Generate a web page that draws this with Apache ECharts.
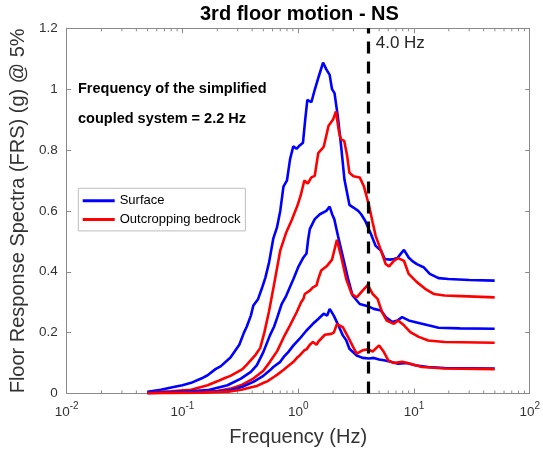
<!DOCTYPE html>
<html>
<head>
<meta charset="utf-8">
<script src="https://cdn.jsdelivr.net/npm/echarts@6/dist/echarts.min.js"></script>
<style>html,body{margin:0;padding:0;background:#fff}#c{width:543px;height:452px}</style>
</head>
<body>
<div id="c"></div>
<script>
// ---------- text ----------
const chartTitle = '3rd floor motion - NS';
const xAxisName = 'Frequency (Hz)';
const yAxisName = 'Floor Response Spectra (FRS) (g) @ 5%';
const legendNames = ['Surface', 'Outcropping bedrock'];
const noteLines = ['Frequency of the simplified', 'coupled system = 2.2 Hz'];
const markerFreq = 4.0;
const markerLabel = '4.0 Hz';

// ---------- axes ----------
const xMin = 0.01, xMax = 100;
const yMin = 0, yMax = 1.2, yStep = 0.2;
const minorDecades = [0.01, 0.1, 1, 10];
const minorMultipliers = [2, 3, 4, 5, 6, 7, 8, 9];

// ---------- data: Surface (blue) ----------
const surfHighF = [0.05,0.065,0.086,0.1,0.119,0.147,0.165,0.193,0.215,0.26,0.31,0.34,0.36,0.39,0.41,0.45,0.49,0.52,0.56,0.61,0.655,0.70,0.746,0.80,0.851,0.907,0.968,1.03,1.10,1.15,1.20,1.30,1.39,1.50,1.64,1.75,1.87,1.96,2.06,2.2,2.35,2.51,2.77,3.0,3.3,3.5,3.8,4.25,4.67,5.2,5.6,6.2,6.7,7.2,7.65,8.2,9.0,9.7,10.6,12.1,13.7,16.3,19.9,30,49.8];
const surfHighV = [0.006,0.012,0.022,0.027,0.035,0.05,0.06,0.08,0.09,0.118,0.16,0.2,0.22,0.256,0.289,0.31,0.35,0.38,0.43,0.51,0.545,0.60,0.68,0.70,0.77,0.812,0.804,0.815,0.824,0.90,0.965,0.957,0.998,1.04,1.087,1.065,1.047,1.0,0.987,0.91,0.812,0.703,0.62,0.611,0.60,0.589,0.567,0.524,0.485,0.469,0.442,0.44,0.442,0.445,0.458,0.472,0.447,0.435,0.425,0.415,0.393,0.379,0.376,0.373,0.371];

const surfMidF = [0.05,0.1,0.165,0.245,0.32,0.39,0.44,0.5,0.57,0.62,0.66,0.72,0.79,0.86,0.91,1.0,1.11,1.18,1.22,1.26,1.39,1.54,1.75,1.87,1.96,2.05,2.2,2.43,2.7,2.95,3.4,4.0,4.5,5.2,5.7,6.5,7.2,7.9,9.0,11.0,13.3,16.3,25,49.8];
const surfMidV = [0.002,0.006,0.011,0.027,0.049,0.071,0.093,0.136,0.191,0.22,0.25,0.294,0.322,0.355,0.376,0.415,0.447,0.46,0.507,0.54,0.573,0.589,0.6,0.614,0.59,0.573,0.52,0.45,0.376,0.322,0.294,0.287,0.278,0.273,0.251,0.235,0.24,0.251,0.24,0.232,0.224,0.216,0.214,0.213];

const surfLowF = [0.05,0.12,0.2,0.26,0.33,0.41,0.5,0.57,0.61,0.70,0.75,0.82,0.91,1.03,1.18,1.34,1.49,1.66,1.78,1.87,2.03,2.26,2.43,2.6,2.77,3.2,3.6,4.1,4.5,5.0,5.5,6.3,7.3,8.7,10.2,13.3,18.4,49.8];
const surfLowV = [0.002,0.004,0.007,0.011,0.022,0.038,0.058,0.076,0.087,0.104,0.12,0.136,0.158,0.18,0.207,0.229,0.245,0.262,0.256,0.278,0.256,0.218,0.191,0.175,0.147,0.125,0.117,0.115,0.117,0.112,0.109,0.104,0.098,0.1,0.093,0.087,0.084,0.082];

// ---------- data: Outcropping bedrock (red) ----------
const rockHighF = [0.05,0.08,0.119,0.165,0.2,0.23,0.26,0.3,0.33,0.36,0.39,0.43,0.47,0.51,0.56,0.62,0.70,0.79,0.88,0.98,1.05,1.13,1.21,1.30,1.39,1.49,1.66,1.83,2.0,2.12,2.25,2.34,2.5,2.65,2.77,3.0,3.4,3.7,4.1,4.4,4.67,5.2,5.7,6.1,6.7,7.3,8.2,9.0,10.6,12.5,14.8,18.4,25.6,49.8];
const rockHighV = [0.003,0.007,0.012,0.027,0.04,0.05,0.058,0.071,0.08,0.095,0.11,0.128,0.15,0.2,0.27,0.36,0.47,0.53,0.57,0.615,0.65,0.70,0.69,0.71,0.715,0.79,0.81,0.88,0.90,0.927,0.86,0.835,0.83,0.78,0.725,0.714,0.71,0.68,0.616,0.562,0.518,0.469,0.425,0.418,0.436,0.445,0.436,0.393,0.366,0.344,0.327,0.322,0.32,0.316];

const rockMidF = [0.05,0.12,0.2,0.26,0.32,0.41,0.5,0.57,0.66,0.75,0.85,0.97,1.06,1.11,1.14,1.26,1.34,1.44,1.49,1.58,1.78,1.96,2.05,2.16,2.35,2.6,2.9,3.2,3.6,4.0,4.4,4.85,5.3,5.8,6.7,7.3,8.2,9.3,11,13.3,18.4,49.8];
const rockMidV = [0.002,0.004,0.008,0.016,0.027,0.049,0.075,0.104,0.14,0.185,0.224,0.267,0.3,0.311,0.327,0.338,0.349,0.355,0.376,0.404,0.42,0.44,0.47,0.505,0.45,0.376,0.327,0.316,0.338,0.357,0.327,0.311,0.267,0.24,0.229,0.24,0.224,0.202,0.186,0.174,0.169,0.167];

const rockLowF = [0.05,0.15,0.25,0.33,0.41,0.44,0.51,0.54,0.62,0.66,0.75,0.80,0.91,0.98,1.03,1.13,1.18,1.26,1.34,1.44,1.49,1.7,1.93,2.03,2.16,2.23,2.43,2.7,2.98,3.2,3.6,4.0,4.4,5.0,5.5,6.0,6.7,7.9,9.3,11.7,18.4,49.8];
const rockLowV = [0.001,0.003,0.006,0.013,0.022,0.025,0.036,0.04,0.055,0.062,0.078,0.087,0.104,0.118,0.125,0.142,0.145,0.16,0.169,0.16,0.17,0.193,0.196,0.2,0.228,0.234,0.218,0.185,0.153,0.131,0.142,0.145,0.138,0.158,0.136,0.109,0.1,0.104,0.098,0.087,0.082,0.08];

// ---------- build ----------
const FONT = 'Liberation Sans, Arial, sans-serif';
const BLUE = '#0000ff', RED = '#ff0000';
const AXIS_GRAY = '#8a8a8a', LABEL_GRAY = '#333333';
const zip = (f, v) => f.map((x, i) => [x, v[i]]);

function lineSeries(name, color, f, v, extra) {
  return Object.assign({
    type: 'line', name: name, data: zip(f, v),
    showSymbol: false, symbol: 'none', smooth: false,
    lineStyle: { color: color, width: 2.6 }, itemStyle: { color: color },
    emphasis: { disabled: true }, z: 3
  }, extra || {});
}

const minorTicks = [];
minorDecades.forEach(d => minorMultipliers.forEach(m => minorTicks.push([d * m, yMin])));

const chart = echarts.init(document.getElementById('c'), null, { renderer: 'canvas' });
const gridLeft = 64, gridRight = 10.5, gridTop = 28.3, gridBottom = 57;

chart.setOption({
  animation: false,
  backgroundColor: '#ffffff',
  textStyle: { fontFamily: FONT },
  title: {
    text: chartTitle, left: 200, top: 4, padding: 0,
    textStyle: { fontFamily: FONT, fontSize: 20, fontWeight: 'bold', color: '#000' }
  },
  grid: { left: gridLeft, right: gridRight, top: gridTop, bottom: gridBottom, containLabel: false },
  legend: {
    data: legendNames, orient: 'vertical', left: 78.3, top: 188.3,
    padding: [5, 5, 4, 4.4], itemGap: 3.6, itemWidth: 32, itemHeight: 3, icon: 'rect',
    backgroundColor: '#ffffff', borderColor: '#bdbdbd', borderWidth: 1, borderRadius: 0,
    selectedMode: false,
    textStyle: { fontFamily: FONT, fontSize: 13, color: '#000', lineHeight: 15 }
  },
  xAxis: [{
    type: 'log', logBase: 10, min: xMin, max: xMax, splitNumber: 4, position: 'bottom',
    name: xAxisName, nameLocation: 'middle', nameGap: 33.5,
    nameTextStyle: { fontFamily: FONT, fontSize: 20, color: LABEL_GRAY },
    axisLine: { show: true, onZero: false, lineStyle: { color: AXIS_GRAY, width: 1 } },
    axisTick: { show: true, inside: true, length: 5, lineStyle: { color: AXIS_GRAY } },
    splitLine: { show: false },
    axisLabel: {
      margin: 8, color: LABEL_GRAY,
      formatter: v => '{b|10}{e|' + Math.round(Math.log10(v)) + '}',
      rich: {
        b: { fontFamily: FONT, fontSize: 13.5, lineHeight: 18, verticalAlign: 'bottom', color: LABEL_GRAY },
        e: { fontFamily: FONT, fontSize: 10, lineHeight: 10, verticalAlign: 'top', color: LABEL_GRAY }
      }
    }
  }, {
    type: 'log', logBase: 10, min: xMin, max: xMax, splitNumber: 4, position: 'top',
    axisLine: { show: true, onZero: false, lineStyle: { color: AXIS_GRAY, width: 1 } },
    axisTick: { show: true, inside: true, length: 5, lineStyle: { color: AXIS_GRAY } },
    axisLabel: { show: false }, splitLine: { show: false }
  }],
  yAxis: [{
    type: 'value', min: yMin, max: yMax, interval: yStep, position: 'left',
    name: yAxisName, nameLocation: 'middle', nameGap: 29,
    nameTextStyle: { fontFamily: FONT, fontSize: 20, color: LABEL_GRAY },
    axisLine: { show: true, onZero: false, lineStyle: { color: AXIS_GRAY, width: 1 } },
    axisTick: { show: true, inside: true, length: 4.5, lineStyle: { color: AXIS_GRAY } },
    splitLine: { show: false },
    axisLabel: { margin: 9, fontFamily: FONT, fontSize: 13.5, color: LABEL_GRAY }
  }, {
    type: 'value', min: yMin, max: yMax, interval: yStep, position: 'right',
    axisLine: { show: true, onZero: false, lineStyle: { color: AXIS_GRAY, width: 1 } },
    axisTick: { show: true, inside: true, length: 4.5, lineStyle: { color: AXIS_GRAY } },
    axisLabel: { show: false }, splitLine: { show: false }
  }],
  graphic: [
    { type: 'text', left: 78, top: 81, silent: true,
      style: { text: noteLines[0], fontFamily: FONT, fontSize: 14.5, fontWeight: 'bold', fill: '#000' } },
    { type: 'text', left: 78, top: 111, silent: true,
      style: { text: noteLines[1], fontFamily: FONT, fontSize: 14.5, fontWeight: 'bold', fill: '#000' } },
    { type: 'text', left: 375.7, top: 35, silent: true,
      style: { text: markerLabel, fontFamily: FONT, fontSize: 17, fill: '#262626' } }
  ],
  series: [
    {
      type: 'custom', name: 'minorTicks', silent: true, xAxisIndex: 0, yAxisIndex: 0,
      data: minorTicks, encode: { x: 0, y: 1 }, clip: false, z: 1,
      renderItem: function (params, api) {
        const f = api.value(0);
        const pb = api.coord([f, yMin]);
        const pt = api.coord([f, yMax]);
        const st = { stroke: AXIS_GRAY, lineWidth: 1 };
        return { type: 'group', children: [
          { type: 'line', shape: { x1: pb[0], y1: pb[1], x2: pb[0], y2: pb[1] - 3 }, style: st },
          { type: 'line', shape: { x1: pt[0], y1: pt[1], x2: pt[0], y2: pt[1] + 3 }, style: st }
        ]};
      }
    },
    lineSeries(legendNames[0], BLUE, surfHighF, surfHighV, {
      markLine: {
        silent: true, symbol: ['none', 'none'], label: { show: false },
        lineStyle: { color: '#000', width: 3.2, type: [12, 8] },
        emphasis: { disabled: true },
        data: [{ xAxis: markerFreq }]
      }
    }),
    lineSeries(legendNames[1], RED, rockHighF, rockHighV),
    lineSeries(legendNames[0], BLUE, surfMidF, surfMidV),
    lineSeries(legendNames[1], RED, rockMidF, rockMidV),
    lineSeries(legendNames[0], BLUE, surfLowF, surfLowV),
    lineSeries(legendNames[1], RED, rockLowF, rockLowV)
  ]
});
</script>
</body>
</html>
